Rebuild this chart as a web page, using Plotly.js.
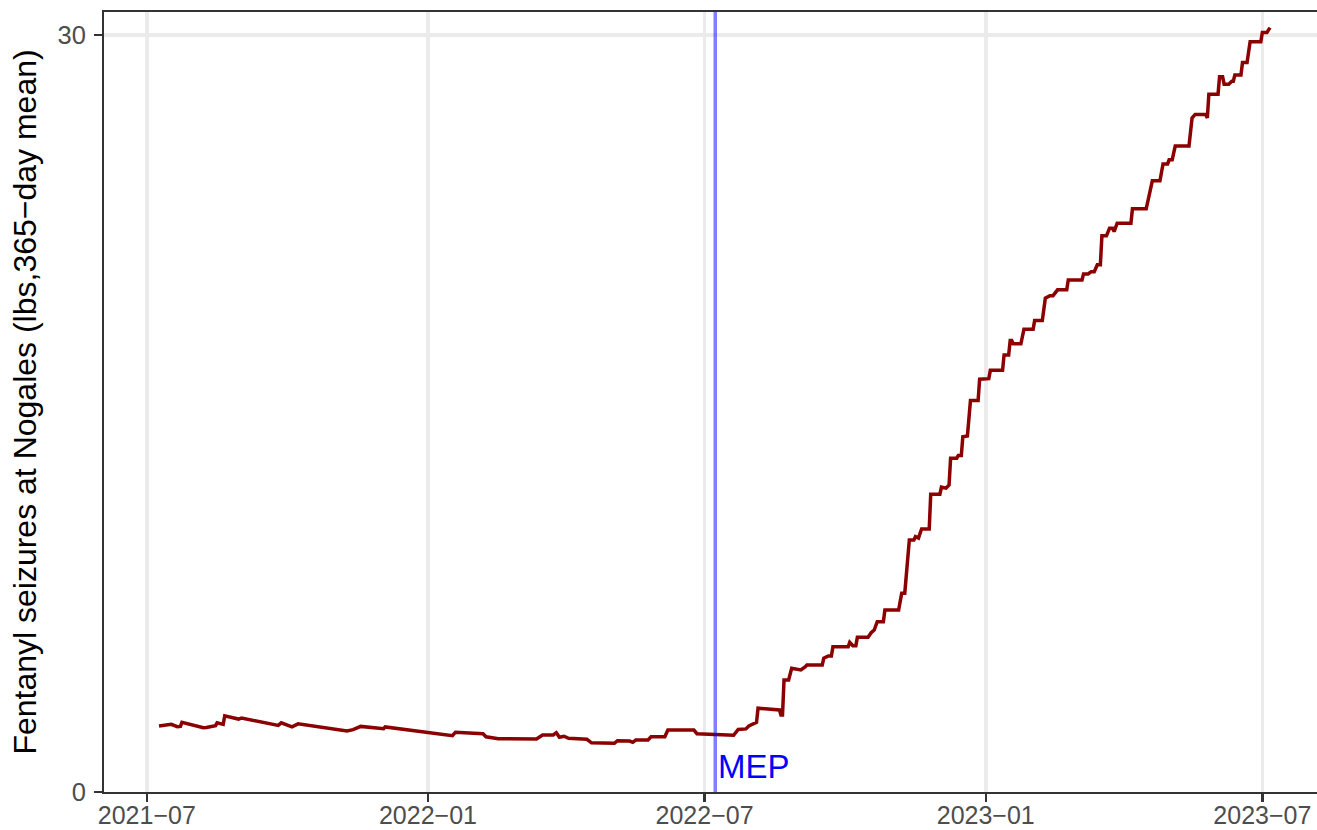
<!DOCTYPE html>
<html>
<head>
<meta charset="utf-8">
<script src="https://cdn.plot.ly/plotly-3.0.1.min.js"></script>
<style>
  html, body { margin: 0; padding: 0; overflow: hidden; background: #ffffff; }
  #chart { width: 1330px; height: 830px; }
</style>
</head>
<body>
<div id="chart"></div>
<script>
// 365-day mean of fentanyl seizures at Nogales (lbs)
const dates = [
  "2021-07-09","2021-07-17","2021-07-21","2021-07-23","2021-07-24","2021-08-07","2021-08-09","2021-08-13",
  "2021-08-15","2021-08-16","2021-08-20","2021-08-21","2021-08-30","2021-09-01","2021-09-25","2021-09-27",
  "2021-10-04","2021-10-08","2021-11-09","2021-11-13","2021-11-18","2021-12-03","2021-12-04","2022-01-17",
  "2022-01-19","2022-02-06","2022-02-08","2022-02-16","2022-03-13","2022-03-17","2022-03-24","2022-03-26",
  "2022-03-28","2022-03-31","2022-04-03","2022-04-15","2022-04-18","2022-05-03","2022-05-05","2022-05-13",
  "2022-05-15","2022-05-17","2022-05-25","2022-05-27","2022-06-05","2022-06-07","2022-06-24","2022-06-26",
  "2022-07-20","2022-07-23","2022-07-28","2022-07-30","2022-08-02","2022-08-04","2022-08-05","2022-08-19",
  "2022-08-20","2022-08-21","2022-08-22","2022-08-25","2022-08-27","2022-09-02","2022-09-05","2022-09-06",
  "2022-09-16","2022-09-17","2022-09-20","2022-09-22","2022-09-23","2022-10-03","2022-10-04","2022-10-06",
  "2022-10-08","2022-10-09","2022-10-16","2022-10-18","2022-10-20","2022-10-22","2022-10-26","2022-10-27",
  "2022-11-05","2022-11-07","2022-11-09","2022-11-12","2022-11-15","2022-11-16","2022-11-18","2022-11-20",
  "2022-11-25","2022-11-26","2022-12-02","2022-12-03","2022-12-06","2022-12-08","2022-12-09","2022-12-13",
  "2022-12-14","2022-12-16","2022-12-17","2022-12-20","2022-12-22","2022-12-27","2022-12-28","2023-01-03",
  "2023-01-04","2023-01-12","2023-01-13","2023-01-16","2023-01-17","2023-01-18","2023-01-19","2023-01-24",
  "2023-01-26","2023-02-01","2023-02-02","2023-02-07","2023-02-09","2023-02-12","2023-02-14","2023-02-17",
  "2023-02-23","2023-02-24","2023-03-05","2023-03-06","2023-03-09","2023-03-11","2023-03-13","2023-03-15",
  "2023-03-17","2023-03-18","2023-03-21","2023-03-23","2023-03-25","2023-03-26","2023-03-28","2023-04-06",
  "2023-04-07","2023-04-16","2023-04-18","2023-04-20","2023-04-25","2023-04-27","2023-04-30","2023-05-01",
  "2023-05-03","2023-05-05","2023-05-14","2023-05-16","2023-05-18","2023-05-25","2023-05-26","2023-05-27",
  "2023-06-02","2023-06-03","2023-06-05","2023-06-06","2023-06-09","2023-06-11","2023-06-12","2023-06-13",
  "2023-06-17","2023-06-18","2023-06-21","2023-06-22","2023-06-23","2023-06-30","2023-07-01","2023-07-04",
  "2023-07-06"
];
const seizures = [
  2.62,2.68,2.59,2.60,2.76,2.55,2.56,2.63,
  2.63,2.74,2.68,3.02,2.89,2.93,2.64,2.74,
  2.58,2.70,2.42,2.47,2.60,2.51,2.58,2.23,
  2.37,2.31,2.19,2.11,2.10,2.26,2.26,2.35,
  2.17,2.21,2.13,2.09,1.95,1.93,2.03,2.02,
  1.97,2.06,2.06,2.19,2.19,2.46,2.46,2.31,
  2.25,2.48,2.50,2.62,2.70,2.76,3.32,3.25,
  3.05,3.05,4.44,4.44,4.90,4.84,4.97,5.03,
  5.03,5.30,5.39,5.39,5.76,5.76,5.93,5.80,
  5.80,6.13,6.13,6.31,6.42,6.75,6.75,7.21,
  7.21,7.88,7.88,9.99,9.99,10.12,10.06,10.42,
  10.42,11.80,11.80,12.08,12.04,12.17,13.23,13.23,
  13.33,13.33,14.08,14.11,15.51,15.51,16.36,16.38,
  16.71,16.71,17.32,17.32,17.89,17.89,17.76,17.76,
  18.34,18.34,18.68,18.68,19.57,19.67,19.67,19.90,
  19.90,20.29,20.29,20.53,20.53,20.62,20.62,20.89,
  20.89,22.04,22.04,22.34,22.34,22.21,22.54,22.54,
  23.11,23.11,23.66,24.22,24.22,24.89,24.89,25.05,
  25.05,25.60,25.60,26.71,26.85,26.85,26.71,27.65,
  27.65,28.34,28.34,28.05,28.05,28.17,28.17,28.41,
  28.41,28.91,28.91,29.26,29.73,29.73,30.10,30.10,
  30.29
];
const mepDate = "2022-07-08";
const mepLabel = "MEP";
const xTickVals = ["2021-07-01","2022-01-01","2022-07-01","2023-01-01","2023-07-01"];
const xTickText = ["2021\u221207","2022\u221201","2022\u221207","2023\u221201","2023\u221207"];
const yTickVals = [0, 30];
const yTitle = "Fentanyl seizures at Nogales (lbs,365\u2212day mean)";

const FONT = "Liberation Sans, Arial, Helvetica, sans-serif";

const trace = {
  x: dates,
  y: seizures,
  type: "scatter",
  mode: "lines",
  line: { color: "#8B0000", width: 3.5 },
  hoverinfo: "skip"
};

const layout = {
  width: 1330,
  height: 830,
  margin: { l: 104, r: 5, t: 12, b: 38 },
  paper_bgcolor: "#ffffff",
  plot_bgcolor: "#ffffff",
  showlegend: false,
  font: { family: FONT },
  xaxis: {
    type: "date",
    range: ["2021-06-03", "2023-08-11"],
    tickmode: "array",
    tickvals: xTickVals,
    ticktext: xTickText,
    ticks: "outside",
    ticklen: 8,
    tickwidth: 2.5,
    tickcolor: "#333333",
    tickfont: { family: FONT, size: 25, color: "#4D4D4D" },
    ticklabelstandoff: -8,
    showgrid: true,
    gridcolor: "#EBEBEB",
    gridwidth: 3.5,
    showline: true,
    linecolor: "#333333",
    linewidth: 2,
    mirror: true,
    zeroline: false
  },
  yaxis: {
    range: [0, 30.91],
    tickmode: "array",
    tickvals: yTickVals,
    ticktext: yTickVals.map(String),
    ticks: "outside",
    ticklen: 8,
    tickwidth: 2.5,
    tickcolor: "#333333",
    tickfont: { family: FONT, size: 25.5, color: "#4D4D4D" },
    ticklabelstandoff: 3,
    showgrid: true,
    gridcolor: "#EBEBEB",
    gridwidth: 3.5,
    showline: true,
    linecolor: "#333333",
    linewidth: 2,
    mirror: true,
    zeroline: false,
    automargin: false,
    title: { text: yTitle, font: { family: FONT, size: 32, color: "#000000" }, standoff: 11 }
  },
  shapes: [{
    type: "line",
    xref: "x", yref: "paper",
    x0: mepDate, x1: mepDate, y0: 0, y1: 1,
    line: { color: "rgba(0,0,255,0.5)", width: 3.5 }
  }],
  annotations: [{
    x: mepDate, y: 1.0,
    xref: "x", yref: "y",
    xanchor: "left", yanchor: "middle",
    xshift: 1,
    text: mepLabel,
    showarrow: false,
    font: { family: FONT, size: 33, color: "#0000FF" }
  }]
};

Plotly.newPlot("chart", [trace], layout, { displayModeBar: false, staticPlot: true, responsive: false });
</script>
</body>
</html>
